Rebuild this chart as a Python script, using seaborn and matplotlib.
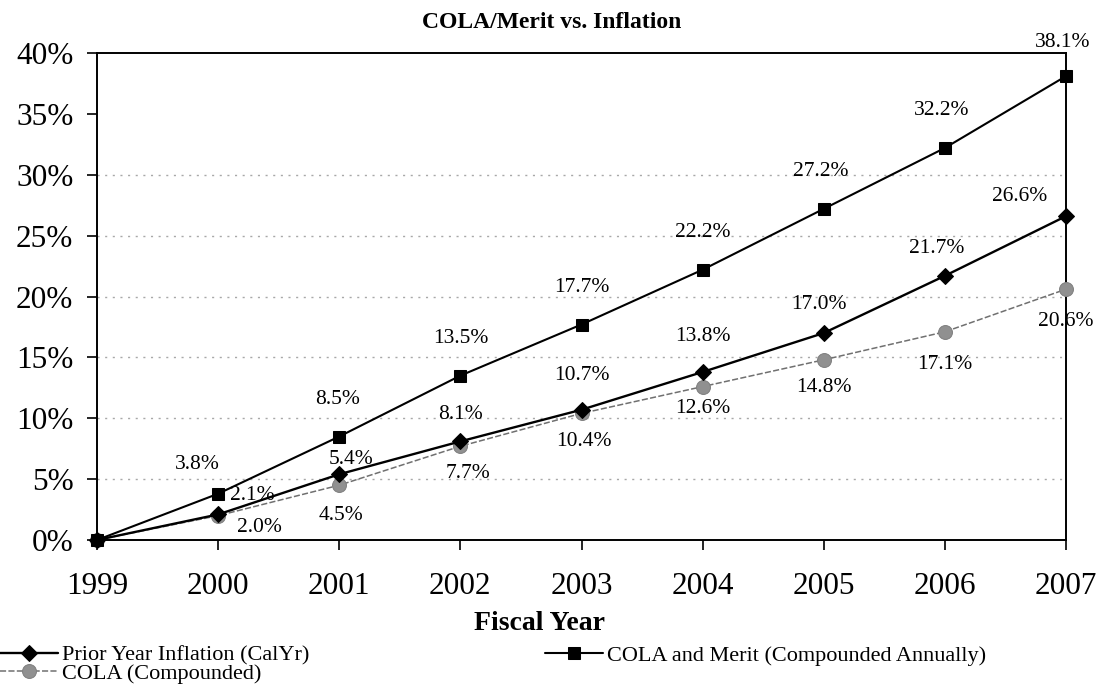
import numpy as np
import pandas as pd
import matplotlib.pyplot as plt
import seaborn as sns

# ============================
# Data (cumulative %)
# ============================
years = [1999, 2000, 2001, 2002, 2003, 2004, 2005, 2006, 2007]
inflation = [0.0, 2.1, 5.4, 8.1, 10.7, 13.8, 17.0, 21.7, 26.6]
cola = [0.0, 2.0, 4.5, 7.7, 10.4, 12.6, 14.8, 17.1, 20.6]
cola_merit = [0.0, 3.8, 8.5, 13.5, 17.7, 22.2, 27.2, 32.2, 38.1]
y_ticks = [0, 5, 10, 15, 20, 25, 30, 35, 40]

df = pd.DataFrame({'Year': years, 'Inflation': inflation,
                   'COLA': cola, 'Merit': cola_merit})

# label offsets in pixels (dx, dy) for each year after 1999
infl_off = [(34, 19), (12, 15), (0, 27), (0, 34), (0, 35), (-5, 29), (-8, 27), (-46, 20)]
cola_off = [(41, -12), (2, -30), (8, -27), (2, -28), (0, -22), (0, -28), (0, -33), (0, -32)]
merit_off = [(-21, 29), (-2, 37), (0, 37), (0, 37), (0, 37), (-3, 37), (-3, 37), (-3, 34)]

# ============================
# Style
# ============================
sns.set_style('ticks')
plt.rcParams['font.family'] = ['Liberation Serif', 'DejaVu Serif']
plt.rcParams.update({'text.color': 'black', 'axes.labelcolor': 'black',
                     'xtick.color': 'black', 'ytick.color': 'black'})

fig = plt.figure(figsize=(10.98, 6.94), dpi=100)
ax = fig.add_axes([97 / 1098, 1 - 540 / 694, (1066 - 97) / 1098, (540 - 53) / 694])

for v in [5, 10, 15, 20, 25, 30]:
    ax.axhline(v, color='#a8a8a8', lw=1, ls=(0, (1.5, 4)), zorder=0)

sns.lineplot(data=df, x='Year', y='COLA', ax=ax, color='#707070', lw=1.1,
             linestyle=(0, (4, 1.5)), marker='o', markersize=10,
             markerfacecolor='#909090', markeredgecolor='#808080',
             label='COLA (Compounded)', clip_on=False, zorder=3)
sns.lineplot(data=df, x='Year', y='Inflation', ax=ax, color='black', lw=1.7,
             marker='D', markersize=8, markeredgecolor='black',
             label='Prior Year Inflation (CalYr)', clip_on=False, zorder=4)
sns.lineplot(data=df, x='Year', y='Merit', ax=ax, color='black', lw=1.5,
             marker='s', markersize=9, markeredgecolor='black',
             label='COLA and Merit (Compounded Annually)', clip_on=False, zorder=4)

lab_kw = dict(textcoords='offset pixels', ha='center', va='center', fontsize=15.5,
              annotation_clip=False)
for i in range(1, len(years)):
    ax.annotate(f'{inflation[i]:.1f}%', (years[i], inflation[i]), xytext=infl_off[i - 1], **lab_kw)
    ax.annotate(f'{cola[i]:.1f}%', (years[i], cola[i]), xytext=cola_off[i - 1], **lab_kw)
    ax.annotate(f'{cola_merit[i]:.1f}%', (years[i], cola_merit[i]), xytext=merit_off[i - 1], **lab_kw)

ax.set_xlim(1999, 2007)
ax.set_ylim(0, 40)
ax.set_xticks(years)
ax.set_yticks(y_ticks)
ax.set_yticklabels([f'{t}%' for t in y_ticks])
ax.tick_params(axis='both', labelsize=22.5, length=7, width=1.2, direction='out')
ax.tick_params(axis='x', pad=16)
ax.tick_params(axis='y', pad=10)
for s in ax.spines.values():
    s.set_visible(True)
    s.set_color('black')
    s.set_linewidth(1.4)

ax.set_ylabel('')
ax.set_xlabel('Fiscal Year', fontsize=20, fontweight='bold', va='center')
ax.xaxis.set_label_coords((540 - 97) / 969, -(623 - 540) / 487)
fig.text(552 / 1098, 1 - 23 / 694, 'COLA/Merit vs. Inflation', fontsize=17,
         fontweight='bold', ha='center', va='center')

h, l = ax.get_legend_handles_labels()
order = [1, 0, 2]
ax.legend([h[k] for k in order], [l[k] for k in order], ncol=2, frameon=False,
          loc='upper left', bbox_to_anchor=(0, 1 - 645 / 694), bbox_transform=fig.transFigure,
          fontsize=16, handlelength=2.6, handletextpad=0.2, columnspacing=10.6,
          labelspacing=-0.1, borderaxespad=0, borderpad=0)

fig.savefig('out.png', dpi=100)
